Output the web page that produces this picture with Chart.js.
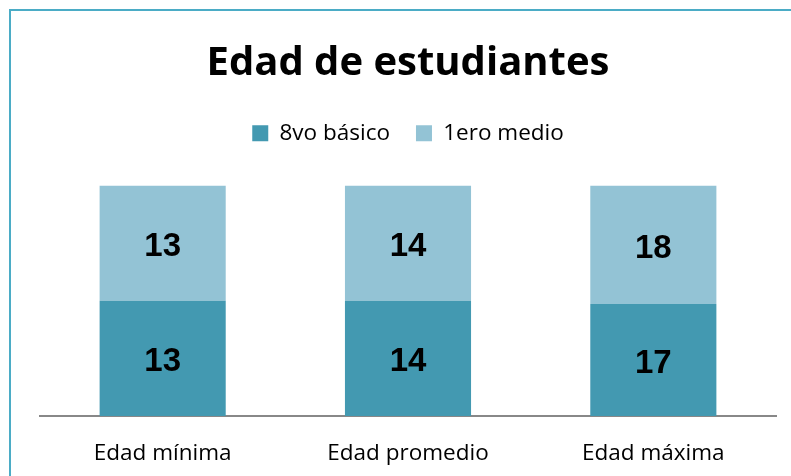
<!DOCTYPE html>
<html>
<head>
<meta charset="utf-8">
<script src="https://cdn.jsdelivr.net/npm/chart.js@4.4.0/dist/chart.umd.min.js"></script>
<style>
  html, body { margin: 0; padding: 0; background: #ffffff; overflow: hidden; }
  #wrap { position: relative; width: 791px; height: 476px; overflow: hidden; }
  #frame { position: absolute; left: 9px; top: 9px; width: 900px; height: 600px; border: 2px solid #4bacc6; box-sizing: border-box; }
  canvas { position: absolute; left: 0; top: 0; }
</style>
</head>
<body>
<div id="wrap">
  <div id="frame"></div>
  <canvas id="c" width="791" height="491"></canvas>
</div>
<script>
const categories = ["Edad mínima", "Edad promedio", "Edad máxima"];
const seriesNames = ["8vo básico", "1ero medio"];
const octavoBasico = [13, 14, 17];
const primeroMedio = [13, 14, 18];
const seriesColors = ["#4399b1", "#93c3d5"];

// 100% stacked: convert to shares of each category total
const totals = categories.map((_, i) => octavoBasico[i] + primeroMedio[i]);
const pct = arr => arr.map((v, i) => v / totals[i] * 100);
const rawValues = [octavoBasico, primeroMedio];

const labelPlugin = {
  id: 'segLabels',
  afterDatasetsDraw(chart) {
    const ctx = chart.ctx;
    ctx.save();
    ctx.font = 'bold 33px "Liberation Sans", Arial, sans-serif';
    ctx.fillStyle = '#000000';
    ctx.textAlign = 'center';
    ctx.textBaseline = 'middle';
    chart.data.datasets.forEach((ds, di) => {
      const meta = chart.getDatasetMeta(di);
      meta.data.forEach((bar, i) => {
        const p = bar.getProps(['x', 'y', 'base'], true);
        ctx.fillText(String(rawValues[di][i]), p.x, (p.y + p.base) / 2 + 4);
      });
    });
    ctx.restore();
  }
};

const legendSpace = {
  id: 'legendSpace',
  beforeInit(chart) {
    const origFit = chart.legend.fit;
    chart.legend.fit = function () {
      origFit.call(this);
      this.height += 31;
    };
  }
};

new Chart(document.getElementById('c'), {
  type: 'bar',
  data: {
    labels: categories,
    datasets: [
      { label: seriesNames[0], data: pct(octavoBasico), backgroundColor: seriesColors[0], borderWidth: 0 },
      { label: seriesNames[1], data: pct(primeroMedio), backgroundColor: seriesColors[1], borderWidth: 0 }
    ]
  },
  options: {
    responsive: false,
    animation: false,
    layout: { padding: { left: 40, right: 15, top: 14, bottom: 0 } },
    datasets: { bar: { categoryPercentage: 1.0, barPercentage: 0.514 } },
    plugins: {
      tooltip: { enabled: false },
      title: {
        display: true,
        text: 'Edad de estudiantes',
        color: '#000000',
        font: { family: '"Open Sans", sans-serif', size: 40, weight: 'bold' },
        padding: { top: 26, bottom: 8 }
      },
      legend: {
        display: true,
        position: 'top',
        labels: {
          color: '#000000',
          font: { family: '"Open Sans", sans-serif', size: 22.5 },
          boxWidth: 16,
          boxHeight: 16,
          padding: 26
        }
      }
    },
    scales: {
      x: {
        stacked: true,
        grid: { display: false, drawTicks: false },
        border: { display: true, color: '#888888', width: 2 },
        ticks: { color: '#000000', font: { family: '"Open Sans", sans-serif', size: 22.5 }, padding: 24 }
      },
      y: {
        stacked: true,
        display: false,
        min: 0,
        max: 100
      }
    }
  },
  plugins: [legendSpace, labelPlugin]
});
</script>
</body>
</html>
